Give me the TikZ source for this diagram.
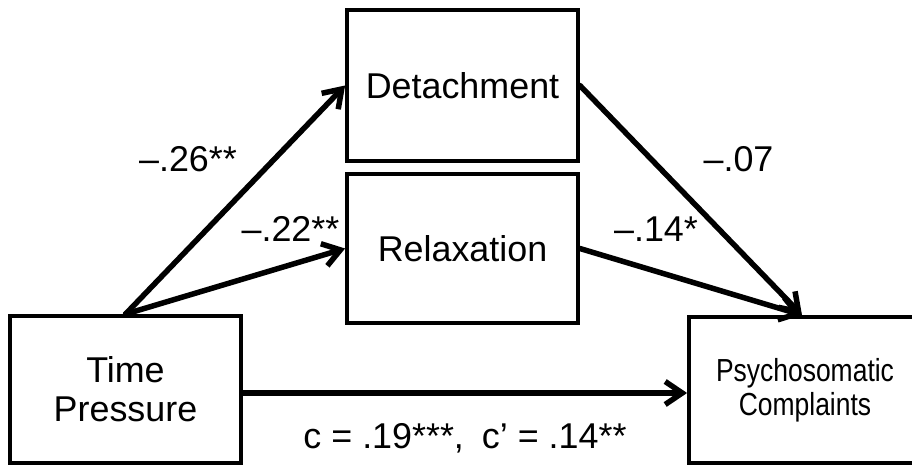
\documentclass[tikz,border=0pt]{standalone}
\usepackage{fontspec}
\setmainfont{Liberation Sans}
\newfontfamily\narrowfont[FakeStretch=0.83]{Liberation Sans}
\usetikzlibrary{arrows.meta,calc}
\begin{document}
\begin{tikzpicture}[x=1bp,y=-1bp,
  box/.style={draw,line width=3.8bp,inner sep=0pt,minimum width=231bp,align=center,
    font=\fontsize{36}{39}\selectfont},
  arr/.style={line width=5.5bp,line cap=round,-{Straight Barb[length=17bp,width=23bp]}},
  lbl/.style={font=\fontsize{36}{39}\selectfont,anchor=base,inner sep=0pt}]
\useasboundingbox (0,0) rectangle (912,467);
\fill[white] (0,0) rectangle (912,467);
\node[box,minimum height=147bp] (tp) at (125.5,389.5) {Time\\Pressure};
\node[box,minimum height=151bp] (det) at (462.5,85.5) {Detachment};
\node[box,minimum height=149bp] (rel) at (462.5,248.5) {Relaxation};
\node[box,minimum width=232bp,minimum height=146bp,
  font=\narrowfont\fontsize{32}{34}\selectfont] (psy) at (805,390) {Psychosomatic\\Complaints};
\draw[arr] (tp.north) -- (det.west);
\draw[arr] (tp.north) -- (rel.west);
\draw[arr] (det.east) -- ($(psy.north)+(-3,0)$);
\draw[arr] (rel.east) -- ($(psy.north)+(-3,0)$);
\draw[arr] (tp.east |- 0,393) -- (psy.west |- 0,393);
\node[lbl] (l1) at (188,172) {–.26**};
\node[lbl] (l2) at (290.5,242) {–.22**};
\node[lbl] (l3) at (738.5,172) {–.07};
\node[lbl] (l4) at (656,242) {–.14*};
\node[lbl] (l5) at (465,448) {c = .19***,\hspace{18bp}c’ = .14**};
\end{tikzpicture}
\end{document}
